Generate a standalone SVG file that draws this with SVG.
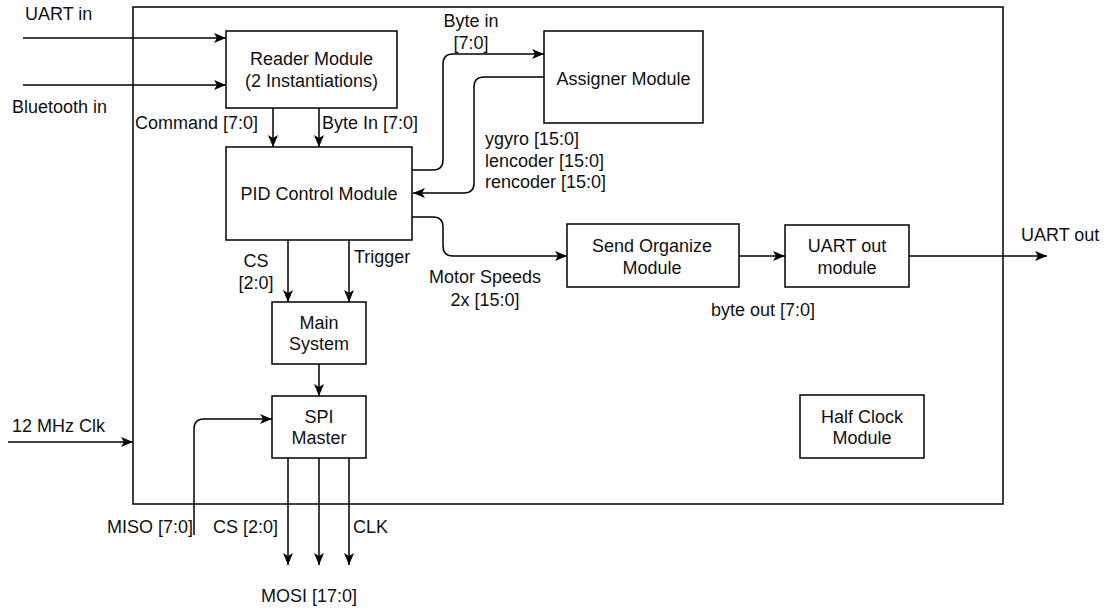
<svg xmlns="http://www.w3.org/2000/svg" width="1105" height="609" viewBox="0 0 1105 609">
<style>
.box{fill:#fff;stroke:#000;stroke-width:1.5}
.outer{fill:none;stroke:#000;stroke-width:1.5}
.wire{fill:none;stroke:#000;stroke-width:1.5;marker-end:url(#arr)}
.plain{fill:none;stroke:#000;stroke-width:1.5}
text{font-family:"Liberation Sans",Arial,sans-serif;font-size:18px;fill:#111}
.c{text-anchor:middle}
.e{text-anchor:end}
</style>
<defs>
<marker id="arr" markerUnits="userSpaceOnUse" markerWidth="12" markerHeight="10" refX="12" refY="5" orient="auto">
<path d="M0,0 L12,5 L0,10 L3,5 Z" fill="#000"/>
</marker>
</defs>
<g id="system-boundary"><rect class="outer" x="133" y="7" width="870" height="497"/></g>
<g id="connectors">
<path class="wire" d="M23,38 H226"/>
<path class="wire" d="M23,85 H226"/>
<path class="wire" d="M273,108 V147"/>
<path class="wire" d="M319,108 V147"/>
<path class="wire" d="M412,170 H433 Q443,170 443,160 V64 Q443,54 453,54 H544"/>
<path class="wire" d="M544,77 H484 Q474,77 474,87 V183 Q474,193 464,193 H413"/>
<path class="wire" d="M412,217 H433 Q443,217 443,227 V246 Q443,256 453,256 H567"/>
<path class="wire" d="M739,256 H785"/>
<path class="wire" d="M909,256 H1047"/>
<path class="wire" d="M288,240 V302"/>
<path class="wire" d="M349,240 V302"/>
<path class="wire" d="M319,364 V396"/>
<path class="wire" d="M8,442 H133"/>
<path class="wire" d="M194,535 V429 Q194,419 204,419 H272"/>
<path class="wire" d="M288,458 V565"/>
<path class="wire" d="M319,458 V565"/>
<path class="wire" d="M349,458 V565"/>
</g>
<g id="reader"><rect class="box" x="226" y="31" width="171" height="77"/><text class="c" x="311.5" y="65">Reader Module</text><text class="c" x="311.5" y="87">(2 Instantiations)</text></g>
<g id="pid"><rect class="box" x="226" y="147" width="186" height="93"/><text class="c" x="319" y="200">PID Control Module</text></g>
<g id="assigner"><rect class="box" x="544" y="31" width="159" height="92"/><text class="c" x="623.5" y="85">Assigner Module</text></g>
<g id="main-system"><rect class="box" x="272" y="302" width="94" height="62"/><text class="c" x="319" y="329">Main</text><text class="c" x="319" y="350">System</text></g>
<g id="spi-master"><rect class="box" x="272" y="396" width="94" height="62"/><text class="c" x="319" y="423">SPI</text><text class="c" x="319" y="444">Master</text></g>
<g id="send-organize"><rect class="box" x="567" y="224" width="172" height="63"/><text class="c" x="652" y="252">Send Organize</text><text class="c" x="652" y="274">Module</text></g>
<g id="uart-out-module"><rect class="box" x="785" y="225" width="124" height="62"/><text class="c" x="847" y="252">UART out</text><text class="c" x="847" y="274">module</text></g>
<g id="half-clock"><rect class="box" x="800" y="395" width="124" height="63"/><text class="c" x="862" y="423">Half Clock</text><text class="c" x="862" y="444">Module</text></g>
<g id="labels">
<text x="25" y="20">UART in</text>
<text x="12" y="113">Bluetooth in</text>
<text x="135" y="129">Command [7:0]</text>
<text x="322" y="129">Byte In [7:0]</text>
<text class="c" x="256" y="267">CS</text>
<text class="c" x="256" y="289">[2:0]</text>
<text x="354" y="263">Trigger</text>
<text x="12" y="432">12 MHz Clk</text>
<text class="e" x="193" y="533">MISO [7:0]</text>
<text x="213" y="533">CS [2:0]</text>
<text x="353" y="533">CLK</text>
<text class="c" x="309" y="602">MOSI [17:0]</text>
<text class="c" x="471" y="27">Byte in</text>
<text class="c" x="471" y="49">[7:0]</text>
<text x="485" y="145">ygyro [15:0]</text>
<text x="485" y="167">lencoder [15:0]</text>
<text x="485" y="188">rencoder [15:0]</text>
<text class="c" x="485" y="283">Motor Speeds</text>
<text class="c" x="485" y="306">2x [15:0]</text>
<text class="c" x="763" y="316">byte out [7:0]</text>
<text x="1021" y="241">UART out</text>
</g>
</svg>
